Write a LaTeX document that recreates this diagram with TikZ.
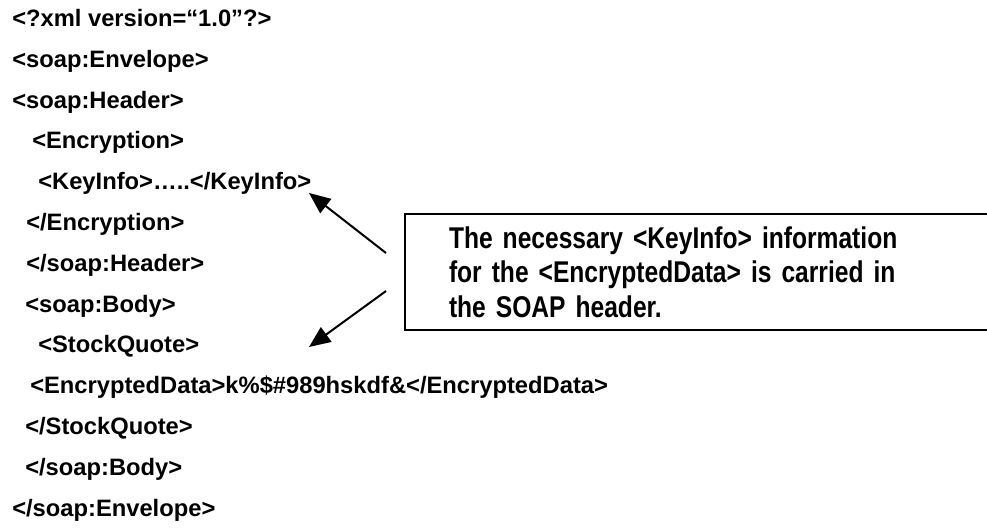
\documentclass[tikz,border=0pt]{standalone}
\usepackage{fontspec}
\setmainfont{Liberation Sans}
\newfontfamily\narrowsans[FakeStretch=0.82]{Liberation Sans}
\newcommand\notefont{\narrowsans\fontsize{22.5}{25.9}\selectfont\bfseries\spaceskip=5pt\relax}
\usetikzlibrary{arrows.meta}
\usetikzlibrary{positioning}

\tikzset{
  xmlline/.style={anchor=base west, inner sep=0pt, font=\fontsize{17.8}{20}\selectfont\bfseries},
  notebox/.style={draw, line width=1.5pt, anchor=north west, align=left, text width=377pt,
    inner xsep=33pt, inner ysep=0pt, minimum height=87pt, font=\notefont},
  pointer/.style={-{Triangle[length=16pt,width=13.4pt]}, line width=1.5pt}
}

\begin{document}
\begin{tikzpicture}[x=0.75pt,y=-0.75pt]
		\useasboundingbox (0,0) rectangle (987,529);
		\node[xmlline] (decl) at (12,26.5) {<?xml version=“1.0”?>};
		\node[xmlline] (env) at (12,67.3) {<soap:Envelope>};
		\node[xmlline] (hdr) at (12,108.1) {<soap:Header>};
		\node[xmlline] (enc) at (32,148.9) {<Encryption>};
		\node[xmlline] (keyinfo) at (38,189.7) {<KeyInfo>…..</KeyInfo>};
		\node[xmlline] (encend) at (26,230.5) {</Encryption>};
		\node[xmlline] (hdrend) at (26,271.3) {</soap:Header>};
		\node[xmlline] (body) at (25,312.1) {<soap:Body>};
		\node[xmlline] (quote) at (38,352.9) {<StockQuote>};
		\node[xmlline] (data) at (30,393.7) {<EncryptedData>k\%\$\#989hskdf\&</EncryptedData>};
		\node[xmlline] (quoteend) at (25,434.5) {</StockQuote>};
		\node[xmlline] (bodyend) at (25,475.3) {</soap:Body>};
		\node[xmlline] (envend) at (12,516.1) {</soap:Envelope>};
		
		\node[notebox] (note) at (404,213) {The necessary <KeyInfo> information\\for the <EncryptedData> is carried in\\the SOAP header.};
		
		\coordinate (keytip) at (309,193);
		\coordinate (datatip) at (309,347);
		\draw[pointer] ([shift={(-18,-19)}]note.west) -- (keytip);
		\draw[pointer] ([shift={(-18,19)}]note.west) -- (datatip);
		\end{tikzpicture}
\end{document}
